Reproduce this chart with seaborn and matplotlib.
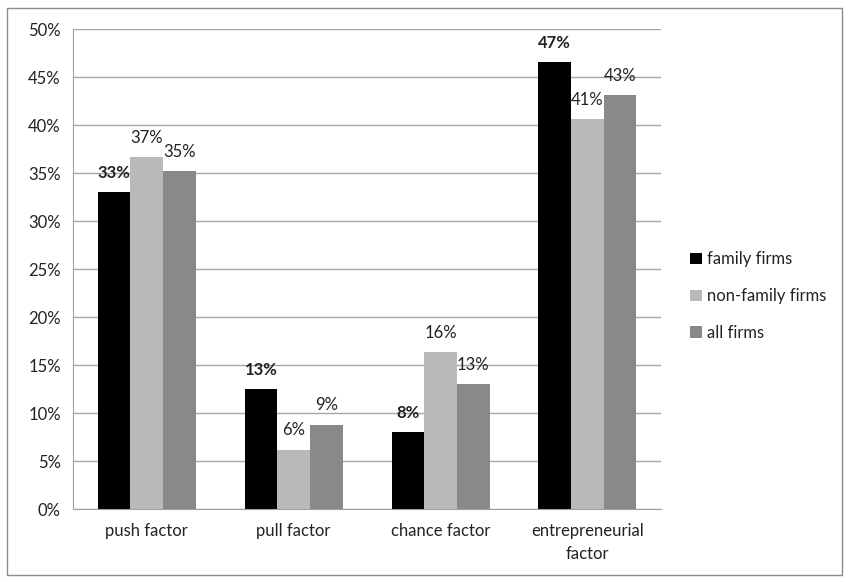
import pandas as pd
import matplotlib.pyplot as plt
import seaborn as sns
from matplotlib.patches import Rectangle
from matplotlib.ticker import FuncFormatter, FixedLocator

# data (percent)
factors = ["push factor", "pull factor", "chance factor", "entrepreneurial\nfactor"]
family = [33.0, 12.5, 8.0, 46.6]
non_family = [36.7, 6.2, 16.4, 40.6]
all_firms = [35.2, 8.8, 13.0, 43.1]
series = ["family firms", "non-family firms", "all firms"]
colors = ["#000000", "#b9b9b9", "#898989"]

df = pd.DataFrame({
    "factor": factors * 3,
    "share": family + non_family + all_firms,
    "group": [s for s in series for _ in factors],
})

sns.set_style("white")
plt.rcParams["font.family"] = ["Lato", "DejaVu Sans"]
fs = 12

fig = plt.figure(figsize=(8.49, 5.82), dpi=100)
ax = fig.add_axes([0.0864, 0.1254, 0.692, 0.8243])

sns.barplot(data=df, x="factor", y="share", hue="group", palette=colors,
            width=0.667, saturation=1, linewidth=0, ax=ax, legend=True)

ax.set_ylim(0, 50)
ax.set_xlim(-0.5, 3.5)
ax.set_yticks(range(0, 51, 5))
ax.yaxis.set_major_formatter(FuncFormatter(lambda v, p: f"{int(v)}%"))
ax.grid(axis="y", color="#a6a6a6", linewidth=1)
ax.set_axisbelow(True)
ax.set_xlabel("")
ax.set_ylabel("")

for s in ["top", "right"]:
    ax.spines[s].set_visible(False)
for s in ["left", "bottom"]:
    ax.spines[s].set_color("#a0a0a0")

ax.tick_params(axis="y", length=5, color="#a0a0a0", labelsize=fs, labelcolor="#222222", pad=4)
ax.tick_params(axis="x", which="major", length=0, labelsize=fs, labelcolor="#222222", pad=10)
ax.xaxis.set_minor_locator(FixedLocator([-0.5, 0.5, 1.5, 2.5, 3.5]))
ax.tick_params(axis="x", which="minor", length=5, color="#a0a0a0")
for t in ax.get_xticklabels():
    t.set_linespacing(1.55)

# value labels
for i, cont in enumerate(ax.containers):
    labels = [f"{int(b.get_height() + 0.5)}%" for b in cont]
    ax.bar_label(cont, labels=labels, padding=8, fontsize=fs, color="#222222",
                 fontweight="bold" if i == 0 else "normal")

handles, names = ax.get_legend_handles_labels()
ax.legend_.remove()
fig.legend(handles, names, loc="center left", bbox_to_anchor=(0.795, 0.491), frameon=False,
           fontsize=fs, handlelength=0.7, handleheight=0.7, handletextpad=0.3,
           labelspacing=1.25, labelcolor="#222222")

fig.add_artist(Rectangle((0.008, 0.012), 0.984, 0.975, transform=fig.transFigure,
                         fill=False, edgecolor="#8c8c8c", linewidth=1))

plt.savefig("out.png", dpi=100)
